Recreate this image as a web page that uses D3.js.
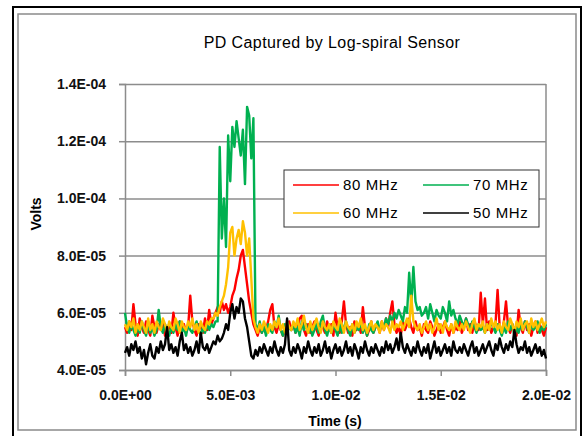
<!DOCTYPE html>
<html>
<head>
<meta charset="utf-8">
<title>PD Captured by Log-spiral Sensor</title>
<script src="https://d3js.org/d3.v7.min.js"></script>
<style>
  * { margin: 0; padding: 0; }
  body { background: #fff; }
  svg { display: block; font-family: 'Liberation Sans', Arial, sans-serif; }
</style>
</head>
<body>
<div id="chart"></div>
<script>
// samples are 1E-04 s apart, 0 .. 2.0E-02 s; voltages below in microvolts
const sampleStep = 1e-4;

const mhz80 = [
  55, 53, 57, 54, 63, 56, 52, 58, 55, 53, 57, 54, 52, 59, 55, 53, 56, 54, 57, 52,
  54, 56, 53, 60, 55, 52, 57, 54, 56, 53, 55, 66, 57, 54, 52, 56, 55, 53, 58, 54,
  61, 56, 58, 60, 62, 60, 64, 61, 63, 60, 62, 66, 68, 72, 75, 80, 82, 76, 70, 64,
  60, 56, 54, 52, 55, 53, 56, 54, 57, 61, 63, 55, 53, 56, 54, 52, 55, 53, 57, 54,
  56, 53, 55, 58, 59, 54, 52, 56, 53, 55, 57, 54, 52, 56, 55, 53, 57, 54, 56, 52,
  60, 55, 53, 57, 64, 56, 53, 55, 52, 57, 54, 56, 53, 62, 55, 52, 54, 57, 53, 55,
  56, 53, 57, 54, 58, 55, 60, 64, 56, 53, 55, 52, 57, 54, 56, 58, 55, 53, 57, 54,
  55, 52, 56, 54, 53, 57, 55, 52, 54, 56, 53, 55, 57, 54, 52, 56, 53, 55, 54, 57,
  53, 55, 58, 54, 56, 53, 57, 55, 54, 67, 56, 65, 54, 57, 53, 55, 56, 68, 55, 53,
  57, 64, 55, 53, 56, 54, 52, 61, 55, 53, 57, 54, 56, 52, 55, 57, 53, 56, 54, 52,
  55
];

const mhz70 = [
  60, 55, 53, 56, 54, 52, 55, 53, 57, 54, 52, 56, 53, 55, 52, 54, 61, 55, 53, 56,
  54, 52, 55, 53, 56, 54, 57, 53, 55, 52, 56, 54, 53, 55, 57, 54, 52, 55, 53, 56,
  54, 56, 55, 57, 57, 118, 86, 100, 83, 122, 106, 125, 118, 127, 121, 115, 124, 105, 132, 129,
  114, 128, 56, 54, 57, 53, 55, 52, 56, 54, 53, 57, 55, 59, 54, 52, 56, 53, 55, 54,
  56, 53, 55, 52, 57, 54, 56, 53, 55, 52, 54, 56, 53, 57, 59, 54, 52, 55, 53, 56,
  54, 52, 56, 53, 55, 57, 54, 52, 56, 53, 55, 54, 57, 53, 55, 52, 56, 54, 53, 55,
  57, 54, 56, 55, 58, 56, 59, 57, 60, 58, 61, 59, 57, 62, 60, 74, 63, 76, 64, 61,
  62, 59, 60, 62, 58, 63, 60, 57, 61, 59, 58, 62, 60, 57, 64, 59, 61, 58, 56, 59,
  57, 55, 58, 56, 54, 57, 55, 53, 56, 54, 55, 53, 56, 54, 57, 55, 53, 56, 54, 52,
  55, 53, 57, 54, 56, 52, 55, 53, 56, 54, 57, 55, 53, 56, 54, 55, 57, 53, 55, 54,
  56
];

const mhz60 = [
  56, 54, 57, 55, 58, 53, 56, 54, 57, 55, 53, 58, 54, 56, 53, 57, 55, 54, 58, 56,
  53, 57, 55, 54, 58, 56, 53, 57, 55, 54, 57, 55, 58, 54, 56, 53, 57, 55, 54, 57,
  56, 58, 58, 60, 59, 62, 64, 66, 70, 76, 88, 90, 80, 86, 89, 84, 92, 88, 80, 86,
  72, 58, 55, 53, 56, 54, 57, 55, 53, 56, 54, 57, 55, 58, 54, 56, 53, 57, 55, 54,
  57, 55, 58, 54, 56, 59, 55, 53, 57, 54, 56, 58, 55, 53, 57, 55, 54, 56, 53, 57,
  55, 54, 58, 56, 53, 57, 55, 54, 56, 53, 57, 55, 58, 54, 56, 53, 55, 57, 54, 56,
  55, 53, 57, 54, 56, 55, 53, 57, 54, 56, 55, 57, 54, 56, 58, 55, 66, 57, 55, 54,
  56, 53, 55, 57, 54, 56, 53, 55, 58, 54, 56, 53, 57, 55, 54, 56, 53, 57, 55, 54,
  56, 54, 57, 55, 53, 56, 58, 54, 56, 55, 57, 53, 56, 54, 58, 55, 57, 54, 56, 53,
  57, 55, 54, 58, 56, 53, 57, 55, 58, 54, 56, 57, 53, 58, 55, 57, 54, 56, 58, 55,
  57
];

const mhz50 = [
  46, 48, 45, 49, 47, 50, 46, 48, 44, 47, 42, 46, 49, 45, 44, 48, 46, 50, 47, 49,
  55, 47, 49, 46, 48, 45, 50, 53, 47, 49, 46, 48, 45, 47, 50, 46, 53, 48, 47, 49,
  46, 48, 50, 49, 52, 50, 51, 53, 56, 54, 60, 63, 58, 62, 60, 65, 64, 58, 55, 50,
  45, 44, 47, 45, 48, 46, 49, 47, 45, 48, 46, 50, 47, 45, 48, 46, 49, 58, 47, 45,
  48, 46, 49, 47, 44, 48, 46, 50, 47, 45, 48, 46, 49, 45, 47, 50, 46, 48, 44, 47,
  49, 46, 48, 45, 47, 50, 46, 48, 45, 49, 47, 44, 48, 46, 50, 47, 45, 48, 46, 49,
  47, 45, 48, 46, 50, 47, 49, 46, 48, 51, 47, 53, 48, 46, 49, 47, 45, 48, 46, 50,
  47, 45, 48, 46, 49, 44, 47, 50, 46, 48, 45, 47, 49, 46, 48, 45, 50, 47, 46, 48,
  46, 49, 47, 45, 48, 50, 46, 48, 45, 47, 49, 46, 48, 50, 47, 45, 49, 47, 51, 48,
  46, 49, 47, 50, 48, 54, 49, 46, 48, 47, 50, 46, 48, 45, 47, 49, 46, 48, 45, 47,
  44
];

const seriesNames = ["80 MHz", "70 MHz", "60 MHz", "50 MHz"];
const seriesColors = ["#ff0000", "#00b050", "#ffc000", "#000000"];

const yTicks = [4e-5, 6e-5, 8e-5, 1e-4, 1.2e-4, 1.4e-4];
const yTickLabels = ["4.0E-05", "6.0E-05", "8.0E-05", "1.0E-04", "1.2E-04", "1.4E-04"];
const xTicks = [0, 5e-3, 1e-2, 1.5e-2, 2e-2];
const xTickLabels = ["0.0E+00", "5.0E-03", "1.0E-02", "1.5E-02", "2.0E-02"];

const W = 587, H = 436;
const plot = { left: 125, right: 546, top: 84, bottom: 370 };

const svg = d3.select("#chart").append("svg")
  .attr("width", W)
  .attr("height", H);

// frame round the whole chart
svg.append("rect")
  .attr("x", 13).attr("y", 7).attr("width", 568).attr("height", 440)
  .attr("fill", "none").attr("stroke", "#000").attr("stroke-width", 2);
svg.append("rect")
  .attr("x", 18).attr("y", 14).attr("width", 558).attr("height", 416)
  .attr("fill", "none").attr("stroke", "#8a8a8a").attr("stroke-width", 1.5);

const x = d3.scaleLinear().domain([0, 0.02]).range([plot.left, plot.right]);
const y = d3.scaleLinear().domain([4e-5, 1.4e-4]).range([plot.bottom, plot.top]);

// grid lines
svg.append("g")
  .attr("transform", "translate(" + plot.left + ",0)")
  .call(d3.axisLeft(y).tickValues(yTicks).tickSize(-(plot.right - plot.left)).tickFormat(""))
  .call(g => g.select(".domain").remove())
  .call(g => g.selectAll("line").attr("stroke", "#8c8c8c").attr("stroke-width", 1.5));

// right border of plot
svg.append("line")
  .attr("x1", plot.right).attr("x2", plot.right)
  .attr("y1", plot.top).attr("y2", plot.bottom)
  .attr("stroke", "#8c8c8c").attr("stroke-width", 1.5);

const yAxis = svg.append("g")
  .attr("transform", "translate(" + plot.left + ",0)")
  .call(d3.axisLeft(y).tickValues(yTicks).tickSize(6).tickPadding(13)
    .tickFormat((d, i) => yTickLabels[i]));

const xAxis = svg.append("g")
  .attr("transform", "translate(0," + plot.bottom + ")")
  .call(d3.axisBottom(x).tickValues(xTicks).tickSize(6).tickPadding(14)
    .tickFormat((d, i) => xTickLabels[i]));

[yAxis, xAxis].forEach(g => {
  g.select(".domain").attr("stroke", "#8c8c8c").attr("stroke-width", 1.5);
  g.selectAll(".tick line").attr("stroke", "#8c8c8c").attr("stroke-width", 1.5);
  g.selectAll("text")
    .attr("fill", "#111")
    .style("font-size", "14px")
    .style("font-weight", "bold")
    .style("font-family", "'Liberation Sans', Arial, sans-serif");
});

// traces
const allSeries = [mhz80, mhz70, mhz60, mhz50];
const line = d3.line()
  .x((d, i) => x(i * sampleStep))
  .y(d => y(d * 1e-6));

svg.append("g").selectAll("path")
  .data(allSeries)
  .join("path")
  .attr("d", d => line(d))
  .attr("fill", "none")
  .attr("stroke", (d, i) => seriesColors[i])
  .attr("stroke-width", 2.4)
  .attr("stroke-linejoin", "round");

// title and axis titles
svg.append("text")
  .attr("x", 332).attr("y", 48)
  .attr("text-anchor", "middle")
  .style("font-size", "16px")
  .style("letter-spacing", "0.4px")
  .text("PD Captured by Log-spiral Sensor");

svg.append("text")
  .attr("x", 335).attr("y", 426)
  .attr("text-anchor", "middle")
  .style("font-size", "14px")
  .style("font-weight", "bold")
  .text("Time (s)");

svg.append("text")
  .attr("transform", "translate(41,214) rotate(-90)")
  .attr("text-anchor", "middle")
  .style("font-size", "14px")
  .style("font-weight", "bold")
  .text("Volts");

// legend
const legend = svg.append("g");
legend.append("rect")
  .attr("x", 284).attr("y", 170).attr("width", 255).attr("height", 57)
  .attr("fill", "#fff").attr("stroke", "#333").attr("stroke-width", 1);

const legendPos = [[293, 185], [423, 185], [293, 213], [423, 213]];
seriesNames.forEach((name, i) => {
  const [lx, ly] = legendPos[i];
  legend.append("line")
    .attr("x1", lx).attr("x2", lx + 46)
    .attr("y1", ly).attr("y2", ly)
    .attr("stroke", seriesColors[i]).attr("stroke-width", 1.5);
  legend.append("text")
    .attr("x", lx + 50).attr("y", ly + 5)
    .style("font-size", "15px")
    .style("letter-spacing", "0.6px")
    .text(name);
});
</script>
</body>
</html>
